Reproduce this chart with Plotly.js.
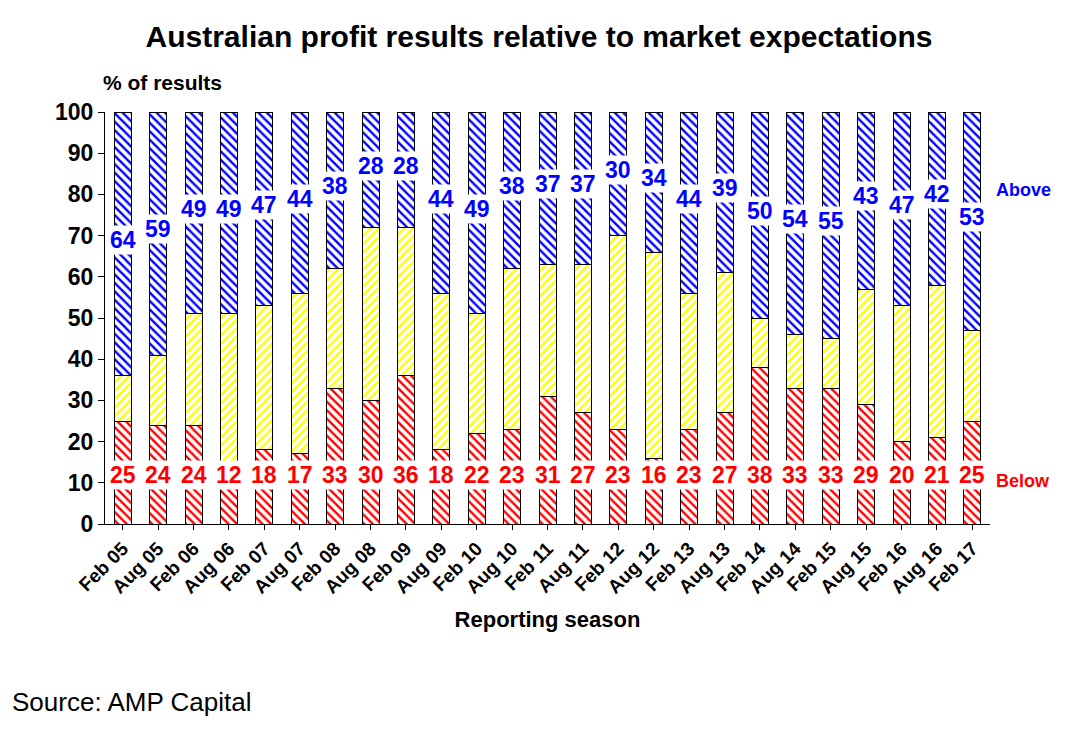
<!DOCTYPE html>
<html>
<head>
<meta charset="utf-8">
<script src="https://cdn.plot.ly/plotly-3.0.1.min.js"></script>
<style>body{margin:0;background:#fff}</style>
</head>
<body>
<div id="chart" style="width:1078px;height:739px"></div>
<script>
const seasons = ['Feb 05','Aug 05','Feb 06','Aug 06','Feb 07','Aug 07','Feb 08','Aug 08','Feb 09','Aug 09',
  'Feb 10','Aug 10','Feb 11','Aug 11','Feb 12','Aug 12','Feb 13','Aug 13','Feb 14','Aug 14',
  'Feb 15','Aug 15','Feb 16','Aug 16','Feb 17']
const below = [25,24,24,12,18,17,33,30,36,18,22,23,31,27,23,16,23,27,38,33,33,29,20,21,25]
const above = [64,59,49,49,47,44,38,28,28,44,49,38,37,37,30,34,44,39,50,54,55,43,47,42,53]
const inLine = seasons.map((s, i) => 100 - below[i] - above[i])

const font = 'Liberation Sans, Arial, sans-serif'
function barTrace(y, color, shape) {
    return {
        x: seasons, y: y, type: 'bar',
        marker: {
            color: 'white',
            line: { color: 'black', width: 1 },
            pattern: { shape: shape, fgcolor: color, bgcolor: 'white', size: 6, solidity: 0.4 }
        },
        hoverinfo: 'skip'
    }
}
const traces = [
    barTrace(below, '#ff0000', '\\'),
    barTrace(inLine, '#ffff00', '/'),
    barTrace(above, '#0000ff', '\\')
]

const annotations = []
seasons.forEach((s, i) => {
    annotations.push({ x: s, y: 12, text: String(below[i]), showarrow: false, bgcolor: 'white',
        borderpad: 1, font: { family: font, size: 23, color: '#ff0000', weight: 'bold' } })
    annotations.push({ x: s, y: 101 - above[i] / 2, text: String(above[i]), showarrow: false, bgcolor: 'white',
        borderpad: 1, font: { family: font, size: 23, color: '#0000ff', weight: 'bold' } })
})
annotations.push({ xref: 'paper', yref: 'y', x: 1.005, y: 81, xanchor: 'left', text: 'Above', showarrow: false,
    font: { family: font, size: 18, color: '#0000ff', weight: 'bold' } })
annotations.push({ xref: 'paper', yref: 'y', x: 1.005, y: 10.5, xanchor: 'left', text: 'Below', showarrow: false,
    font: { family: font, size: 18, color: '#ff0000', weight: 'bold' } })
annotations.push({ xref: 'paper', yref: 'paper', x: -0.005, y: 1.04, xanchor: 'left', yanchor: 'bottom',
    text: '% of results', showarrow: false, font: { family: font, size: 21, color: 'black', weight: 'bold' } })
annotations.push({ xref: 'paper', yref: 'paper', x: -0.107, y: -0.39, xanchor: 'left', yanchor: 'top',
    text: 'Source: AMP Capital', showarrow: false, font: { family: font, size: 26, color: 'black' } })

const layout = {
    width: 1078, height: 739,
    margin: { l: 105, r: 88, t: 112, b: 215 },
    barmode: 'stack', bargap: 0.52, showlegend: false,
    paper_bgcolor: 'white', plot_bgcolor: 'white',
    title: { text: 'Australian profit results relative to market expectations', x: 0.5, y: 0.965,
        font: { family: font, size: 30, color: 'black', weight: 'bold' } },
    xaxis: {
        tickangle: -45, showline: true, linecolor: 'black', ticks: 'outside', ticklen: 5, tickcolor: 'black',
        tickfont: { family: font, size: 19, color: 'black', weight: 'bold' },
        title: { text: 'Reporting season', standoff: 14, font: { family: font, size: 22, color: 'black', weight: 'bold' } }
    },
    yaxis: {
        range: [0, 100], dtick: 10, showgrid: false, zeroline: false, showline: true, linecolor: 'black',
        ticks: 'outside', ticklen: 6, tickcolor: 'black',
        tickfont: { family: font, size: 23, color: 'black', weight: 'bold' }
    },
    annotations: annotations
}

Plotly.newPlot('chart', traces, layout, { displayModeBar: false })
</script>
</body>
</html>
